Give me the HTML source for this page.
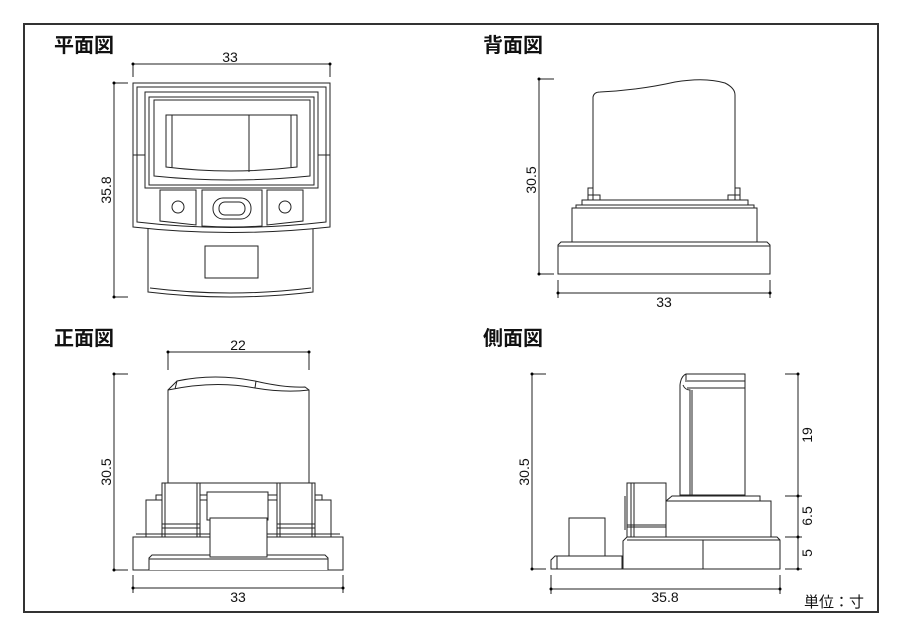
<!DOCTYPE html>
<html><head><meta charset="utf-8"><style>
html,body{margin:0;padding:0;background:#fff;}
svg{display:block}
text{font-family:"Liberation Sans","Noto Sans CJK JP",sans-serif;fill:#111}
.l{fill:none;stroke:#222;stroke-width:1}
.d{fill:none;stroke:#222;stroke-width:1}
.w{fill:#fff;stroke:#222;stroke-width:1}
</style></head><body>
<svg width="900" height="636" viewBox="0 0 900 636" xmlns="http://www.w3.org/2000/svg">
<rect x="24" y="24" width="854" height="588" fill="none" stroke="#333" stroke-width="2"/>
<g font-size="20" font-weight="bold">
<text x="54" y="52">平面図</text><text x="483" y="52">背面図</text>
<text x="54" y="345">正面図</text><text x="483" y="345">側面図</text>
</g>
<text x="804" y="607" font-size="15">単位：寸</text>

<!-- PLAN -->
<g>
<path class="d" d="M133 64H330M133 64V77M330 64V77M114 83V297M114 83H128M114 297H128"/>
<circle cx="133" cy="64" r="1.5"/><circle cx="330" cy="64" r="1.5"/><circle cx="114" cy="83" r="1.5"/><circle cx="114" cy="297" r="1.5"/>
<text x="230" y="62" font-size="14" text-anchor="middle">33</text>
<text transform="translate(111,190) rotate(-90)" font-size="14" text-anchor="middle">35.8</text>
<path class="w" d="M148 225V292Q230 302 313 292V225Z"/>
<path class="l" d="M150 288Q230 298 311 288"/>
<rect x="205" y="246" width="53" height="32" class="w"/>
<path class="w" d="M133 83H330V227Q230 238 133 227Z"/>
<path class="l" d="M137 87H326V222Q230 233 137 222Z"/>
<path class="l" d="M145 92H318V188H145Z M149 97H314V185H149Z"/>
<path class="l" d="M154 100H310V176Q230 184 154 176Z"/>
<path class="l" d="M166 115H297V167Q230 175 166 167Z M172 115V168 M291 115V168 M249 115V172"/>
<path class="l" d="M133 155H145M318 155H330"/>
<path class="w" d="M160 190H196V225Q178 223 160 221Z"/>
<path class="w" d="M202 190H262V226Q232 228 202 226Z"/>
<path class="w" d="M267 190H303V221Q285 223 267 225Z"/>
<circle cx="178" cy="207" r="6" class="w"/><circle cx="285" cy="207" r="6" class="w"/>
<rect x="213" y="198" width="38" height="21" rx="10" class="w"/>
<rect x="219" y="202" width="26" height="13" rx="6" class="w"/>
</g>

<!-- BACK -->
<g>
<path class="d" d="M539 79V274M539 79H554M539 274H554M558 293H770M558 280V298M770 280V298"/>
<circle cx="539" cy="79" r="1.5"/><circle cx="539" cy="274" r="1.5"/><circle cx="558" cy="293" r="1.5"/><circle cx="770" cy="293" r="1.5"/>
<text transform="translate(536,180) rotate(-90)" font-size="14" text-anchor="middle">30.5</text>
<text x="664" y="307" font-size="14" text-anchor="middle">33</text>
<path class="w" d="M593 200V97Q594 92 600 92Q640 90 675 82Q705 77 725 83Q735 88 735 95V200Z"/>
<path class="l" d="M588 200V188H593M740 200V188H735M588 195H600V200M740 195H728V200"/>
<path class="w" d="M582 200H748V205H582Z"/>
<path class="w" d="M576 205H754V208H576Z"/>
<path class="w" d="M572 208H757V242H572Z"/>
<path class="w" d="M561 242H767L770 245V274H558V245Z"/>
<path class="l" d="M558 246H770"/>
</g>

<!-- FRONT -->
<g>
<path class="d" d="M168 352H309M168 352V370M309 352V370M114 374V570M114 374H128M114 570H128M133 588H343M133 575V593M343 575V593"/>
<circle cx="168" cy="352" r="1.5"/><circle cx="309" cy="352" r="1.5"/><circle cx="114" cy="374" r="1.5"/><circle cx="114" cy="570" r="1.5"/><circle cx="133" cy="588" r="1.5"/><circle cx="343" cy="588" r="1.5"/>
<text x="238" y="350" font-size="14" text-anchor="middle">22</text>
<text x="238" y="602" font-size="14" text-anchor="middle">33</text>
<text transform="translate(111,472) rotate(-90)" font-size="14" text-anchor="middle">30.5</text>
<path class="w" d="M168 483V390L177 381Q215 373 255 381Q285 388 305 387L309 390V483Z"/>
<path class="l" d="M168 390Q215 380 255 388Q285 393 309 390M177 381L175 389M256 381L255 388"/>
<path class="w" d="M146 500H163V537H146Z M315 500H331V537H315Z"/>
<path class="w" d="M156 495H322V500H156Z"/>
<path class="w" d="M162 483H200V537H162Z M277 483H315V537H277Z"/>
<path class="l" d="M165 483V537M197 483V537M280 483V537M312 483V537M162 524H200M162 528H200M277 524H315M277 528H315"/>
<path class="w" d="M207 492H268V520H207Z"/>
<path class="w" d="M133 537H343V570H133Z"/>
<path class="l" d="M136 534H340"/>
<path class="w" d="M149 570V558L152 555H325L328 558V570"/>
<path class="l" d="M149 559H328"/>
<path class="w" d="M210 518H267V557H210Z"/>
</g>

<!-- SIDE -->
<g>
<path class="d" d="M532 374V569M532 374H546M532 569H546M551 589H780M551 575V594M780 575V594M798 374V569M785 374H798M785 496H802M785 537H802M785 569H802"/>
<circle cx="532" cy="374" r="1.5"/><circle cx="532" cy="569" r="1.5"/><circle cx="551" cy="589" r="1.5"/><circle cx="780" cy="589" r="1.5"/><circle cx="798" cy="374" r="1.5"/><circle cx="798" cy="496" r="1.5"/><circle cx="798" cy="537" r="1.5"/><circle cx="798" cy="569" r="1.5"/>
<text transform="translate(529,472) rotate(-90)" font-size="14" text-anchor="middle">30.5</text>
<text transform="translate(812,435) rotate(-90)" font-size="14" text-anchor="middle">19</text>
<text transform="translate(812,516) rotate(-90)" font-size="14" text-anchor="middle">6.5</text>
<text transform="translate(812,553) rotate(-90)" font-size="14" text-anchor="middle">5</text>
<text x="665" y="602" font-size="14" text-anchor="middle">35.8</text>
<path class="w" d="M680 495V385Q681 376 686 374H745V495Z"/>
<path class="l" d="M686 374V380M685 381H745M687 388H745M683 385Q685 390 690 390V495M692 390V495"/>
<path class="w" d="M666 501H771L771 537H666Z"/>
<path class="w" d="M672 496H760V501H666Z"/>
<path class="w" d="M627 483H666V537H627Z"/>
<path class="l" d="M631 483V537M634 483V537M627 525H666M627 527H666M625 496V530"/>
<path class="w" d="M623 541L627 537H777L780 540V569H623Z"/>
<path class="l" d="M627 540H780M703 540V569"/>
<path class="w" d="M551 569V560L555 556H622V569Z"/>
<path class="l" d="M557 556V569"/>
<path class="w" d="M569 518H605V556H569Z"/>
</g>
</svg>
</body></html>
